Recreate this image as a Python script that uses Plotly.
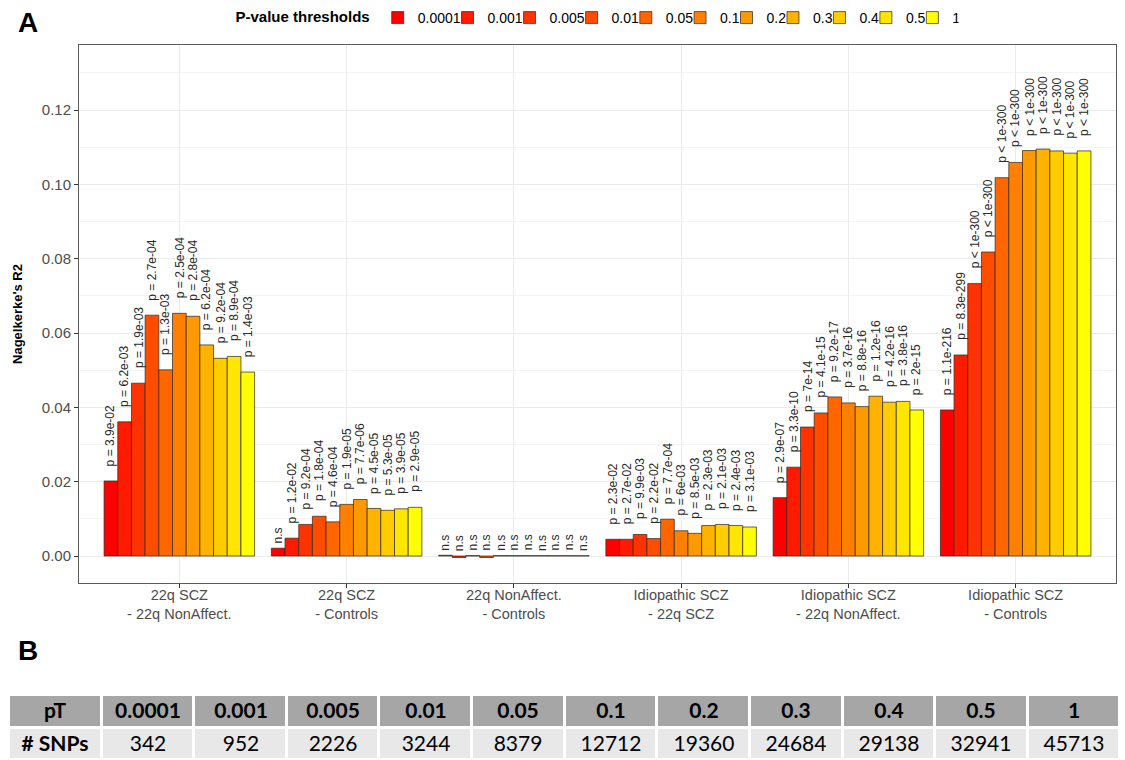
import plotly.graph_objects as go

# ---------------- data ----------------
comparisons = [
    "22q SCZ<br>- 22q NonAffect.",
    "22q SCZ<br>- Controls",
    "22q NonAffect.<br>- Controls",
    "Idiopathic SCZ<br>- 22q SCZ",
    "Idiopathic SCZ<br>- 22q NonAffect.",
    "Idiopathic SCZ<br>- Controls",
]
thresholds = ["0.0001", "0.001", "0.005", "0.01", "0.05", "0.1", "0.2", "0.3", "0.4", "0.5", "1"]

r2_22qscz_22qna = [0.0202, 0.0361, 0.0465, 0.0648, 0.0501, 0.0653, 0.0645, 0.0568, 0.0532, 0.0537, 0.0495]
r2_22qscz_ctrl = [0.0021, 0.0048, 0.0085, 0.0107, 0.0092, 0.0139, 0.0152, 0.0128, 0.0123, 0.0127, 0.0131]
r2_22qna_ctrl = [0.0002, -0.0004, 0.0001, -0.0004, 0.0001, 0.0001, 0.0001, 0.0001, 0.0001, 0.0001, 0.0001]
r2_idscz_22qscz = [0.0045, 0.0045, 0.0058, 0.0047, 0.0099, 0.0068, 0.0061, 0.0082, 0.0085, 0.0082, 0.0078]
r2_idscz_22qna = [0.0157, 0.0239, 0.0347, 0.0385, 0.0428, 0.0412, 0.0402, 0.0430, 0.0414, 0.0416, 0.0393]
r2_idscz_ctrl = [0.0393, 0.0541, 0.0733, 0.0818, 0.1018, 0.1059, 0.1091, 0.1095, 0.1090, 0.1084, 0.1090]

p_22qscz_22qna = ["p = 3.9e-02", "p = 6.2e-03", "p = 1.9e-03", "p = 2.7e-04", "p = 1.3e-03", "p = 2.5e-04",
                  "p = 2.8e-04", "p = 6.2e-04", "p = 9.2e-04", "p = 8.9e-04", "p = 1.4e-03"]
p_22qscz_ctrl = ["n.s", "p = 1.2e-02", "p = 9.2e-04", "p = 1.8e-04", "p = 4.6e-04", "p = 1.9e-05",
                 "p = 7.7e-06", "p = 4.5e-05", "p = 5.3e-05", "p = 3.9e-05", "p = 2.9e-05"]
p_22qna_ctrl = ["n.s"] * 11
p_idscz_22qscz = ["p = 2.3e-02", "p = 2.7e-02", "p = 9.9e-03", "p = 2.2e-02", "p = 7.7e-04", "p = 6e-03",
                  "p = 8.5e-03", "p = 2.3e-03", "p = 2.1e-03", "p = 2.4e-03", "p = 3.1e-03"]
p_idscz_22qna = ["p = 2.9e-07", "p = 3.3e-10", "p = 7e-14", "p = 4.1e-15", "p = 9.2e-17", "p = 3.7e-16",
                 "p = 8.8e-16", "p = 1.2e-16", "p = 4.2e-16", "p = 3.8e-16", "p = 2e-15"]
p_idscz_ctrl = ["p = 1.1e-216", "p = 8.3e-299", "p < 1e-300", "p < 1e-300", "p < 1e-300", "p < 1e-300",
                "p < 1e-300", "p < 1e-300", "p < 1e-300", "p < 1e-300", "p < 1e-300"]

table_row_labels = ["pT", "# SNPs"]
snp_counts = [342, 952, 2226, 3244, 8379, 12712, 19360, 24684, 29138, 32941, 45713]

y_ticks = [0.0, 0.02, 0.04, 0.06, 0.08, 0.10, 0.12]

# ---------------- style ----------------
bar_colors = ["#FF0000", "#FF1A00", "#FF3300", "#FF4D00", "#FF6600", "#FF8000",
              "#FF9900", "#FFB300", "#FFCC00", "#FFE600", "#FFFF00"]
W, H = 1125, 760
FONT = "Liberation Sans, Arial, sans-serif"
NARROW = "Liberation Sans Narrow, Arial Narrow, Liberation Sans, sans-serif"
TABLE_FONT = "Lato, Open Sans, sans-serif"
LEG_SIZE = 14


def text_w(s, size):
    # approximate Arial width of numeric legend labels
    return sum(0.278 if c == "." else 0.556 for c in s) * size


r2_all = [r2_22qscz_22qna, r2_22qscz_ctrl, r2_22qna_ctrl, r2_idscz_22qscz, r2_idscz_22qna, r2_idscz_ctrl]
p_all = [p_22qscz_22qna, p_22qscz_ctrl, p_22qna_ctrl, p_idscz_22qscz, p_idscz_22qna, p_idscz_ctrl]

fig = go.Figure()
for j, th in enumerate(thresholds):
    fig.add_trace(go.Bar(
        x=comparisons,
        y=[series[j] for series in r2_all],
        name=th,
        legendwidth=max(text_w(th, LEG_SIZE) - 18, 0.5),
        marker=dict(color=bar_colors[j], line=dict(color="rgba(50,40,30,0.9)", width=0.8)),
        xaxis="x", yaxis="y",
    ))

n = len(thresholds)
group_w = 0.9
bw = group_w / n
for gi, (vals, labs) in enumerate(zip(r2_all, p_all)):
    for j, (v, lab) in enumerate(zip(vals, labs)):
        fig.add_annotation(
            x=gi + (j - (n - 1) / 2) * bw, y=max(v, 0), xref="x", yref="y",
            text=lab, textangle=-90, showarrow=False,
            xanchor="center", yanchor="bottom",
            yshift=13 if lab.startswith("p") else 3,
            font=dict(family=FONT, size=12, color="#2b2b2b"),
        )

# ---------------- table (panel B) ----------------
header_row = ["<b>%s</b>" % table_row_labels[0]] + ["<b>%s</b>" % t for t in thresholds]
count_row = ["<b>%s</b>" % table_row_labels[1]] + [str(s) for s in snp_counts]
ncols = len(header_row)
fig.add_trace(go.Heatmap(
    x=list(range(ncols)), y=[0, 1],
    z=[[1] * ncols, [0] * ncols],
    text=[header_row, count_row], texttemplate="%{text}",
    textfont=dict(family=TABLE_FONT, size=21, color="black"),
    colorscale=[[0, "#e8e8e8"], [1, "#a6a6a6"]], zmin=0, zmax=1,
    showscale=False, xgap=3, ygap=3, hoverinfo="skip",
    xaxis="x2", yaxis="y2",
))

# panel labels
fig.add_annotation(x=16 / W, y=1 - 5 / H, xref="paper", yref="paper", text="<b>A</b>",
                   showarrow=False, xanchor="left", yanchor="top",
                   font=dict(family=NARROW, size=28, color="black"))
fig.add_annotation(x=16 / W, y=1 - 633 / H, xref="paper", yref="paper", text="<b>B</b>",
                   showarrow=False, xanchor="left", yanchor="top",
                   font=dict(family=NARROW, size=28, color="black"))

fig.update_layout(
    width=W, height=H,
    margin=dict(l=0, r=0, t=0, b=0),
    paper_bgcolor="white", plot_bgcolor="white",
    font=dict(family=FONT, color="#4d4d4d"),
    barmode="group", bargap=0.1, bargroupgap=0.0,
    showlegend=True,
    legend=dict(
        orientation="h", x=596 / W, xanchor="center", y=1 - 18 / H, yanchor="middle",
        title=dict(text="<b>P-value thresholds</b>", side="left",
                   font=dict(family=FONT, size=15, color="black")),
        font=dict(family=FONT, size=LEG_SIZE, color="black"),
        itemwidth=30, traceorder="normal",
    ),
    xaxis=dict(
        domain=[79 / W, 1116 / W], range=[-0.6, 5.6], type="category",
        showgrid=True, gridcolor="#ebebeb", gridwidth=1,
        showline=True, linecolor="#5a5a5a", linewidth=1, mirror=True,
        ticks="outside", ticklen=4, tickcolor="#333333",
        tickfont=dict(family=FONT, size=14.5, color="#4d4d4d"),
        ticklabelstandoff=-5,
        anchor="y",
    ),
    yaxis=dict(
        domain=[(H - 583) / H, (H - 45) / H], range=[-0.00726, 0.1375],
        tickvals=y_ticks, tickformat=".2f",
        showgrid=True, gridcolor="#ebebeb", gridwidth=1, zeroline=False,
        minor=dict(dtick=0.01, tick0=0.0, showgrid=True, gridcolor="#f4f4f4", gridwidth=0.8, ticks=""),
        showline=True, linecolor="#5a5a5a", linewidth=1, mirror=True,
        ticks="outside", ticklen=4, tickcolor="#333333",
        tickfont=dict(family=FONT, size=15, color="#4d4d4d"),
        title=dict(text="<b>Nagelkerke's R2</b>", standoff=16,
                   font=dict(family=FONT, size=13, color="black")),
        anchor="x",
    ),
    xaxis2=dict(domain=[9 / W, 1.0], range=[-0.5, ncols - 0.45], visible=False,
                fixedrange=True, anchor="y2"),
    yaxis2=dict(domain=[0.0, (H - 695) / H], range=[1.5, -0.5], visible=False,
                fixedrange=True, anchor="x2"),
)

fig.write_html("out.html", config={"displayModeBar": False},
               post_script="document.body.style.margin='0';")
